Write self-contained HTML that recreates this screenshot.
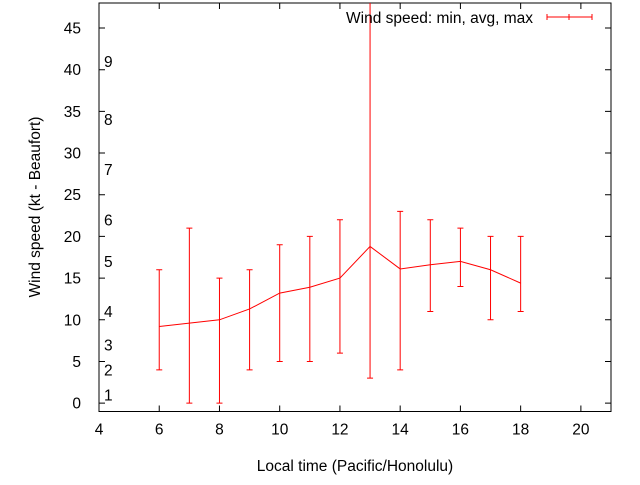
<!DOCTYPE html>
<html><head><meta charset="utf-8"><style>
body{margin:0;background:#fff}
text{font-family:"Liberation Sans",Arial,sans-serif;font-size:15.5px;fill:#000}
</style></head><body>
<svg id="c" width="640" height="480" xmlns="http://www.w3.org/2000/svg"></svg>
<script>
const hours=[6,7,8,9,10,11,12,13,14,15,16,17,18];
const avgSpeed=[9.2,9.6,10,11.3,13.2,13.9,15,18.8,16.1,16.6,17,16,14.4];
const minSpeed=[4,0,0,4,5,5,6,3,4,11,14,10,11];
const maxSpeed=[16,21,15,16,19,20,22,60,23,22,21,20,20];
const xTicks=[4,6,8,10,12,14,16,18,20];
const yTicks=[0,5,10,15,20,25,30,35,40,45];
const beaufortLevels=[1,4,7,11,17,22,28,34,41];
const beaufortLabels=["1","2","3","4","5","6","7","8","9"];
const L=99,R=611,T=3,B=411.5,xmin=4,xmax=21,ymin=-1,ymax=48;
const sx=v=>L+(v-xmin)/(xmax-xmin)*(R-L);
const sy=v=>B-(v-ymin)/(ymax-ymin)*(B-T);
const svg=document.getElementById('c');
const NS='http://www.w3.org/2000/svg';
function mk(tag,attrs,parent){const e=document.createElementNS(NS,tag);for(const k in attrs)e.setAttribute(k,attrs[k]);(parent||svg).appendChild(e);return e;}
const defs=mk('defs',{});const cp=mk('clipPath',{id:'pc'},defs);mk('rect',{x:L,y:T,width:R-L,height:B-T},cp);
xTicks.forEach(v=>{const x=sx(v);
 const t=mk('path',{d:`M${x},${B}v-6M${x},${T}v6`,stroke:'#000','stroke-width':1});
 
 
 const l=mk('text',{x:x,y:B+23,'text-anchor':'middle'});l.textContent=v;
 
 
});
yTicks.forEach(v=>{const y=sy(v);
 const t=mk('path',{d:`M${L},${y}h6M${R},${y}h-6`,stroke:'#000','stroke-width':1});
 
 
 const l=mk('text',{x:L-18,y:y+5.5,'text-anchor':'end'});l.textContent=v;
 
 
});
beaufortLevels.forEach((v,i)=>{
 const l=mk('text',{x:104,y:sy(v)+5.5});l.textContent=beaufortLabels[i];
 
 
});
const border=mk('rect',{x:L,y:T,width:R-L,height:B-T,fill:'none',stroke:'#000','stroke-width':1});


const g=mk('g',{'clip-path':'url(#pc)',stroke:'#f00','stroke-width':1,fill:'none'});


hours.forEach((h,i)=>{const x=sx(h);
 const e=mk('path',{d:`M${x},${sy(minSpeed[i])}V${sy(maxSpeed[i])}M${x-3},${sy(minSpeed[i])}h6M${x-3},${sy(maxSpeed[i])}h6`},g);
 
 
});
const line=mk('polyline',{points:hours.map((h,i)=>sx(h)+','+sy(avgSpeed[i])).join(' ')},g);


const lt=mk('text',{x:533,y:23,'text-anchor':'end'});lt.textContent='Wind speed: min, avg, max';


const ls=mk('path',{d:'M547,17H592M547,14v6M592,14v6M569,14v6',stroke:'#f00',fill:'none'});


const xt=mk('text',{x:355,y:471,'text-anchor':'middle'});xt.textContent='Local time (Pacific/Honolulu)';


const yt=mk('text',{x:0,y:0,'text-anchor':'middle',transform:'translate(40,207) rotate(-90)'});yt.textContent='Wind speed (kt - Beaufort)';


</script>
</body></html>
